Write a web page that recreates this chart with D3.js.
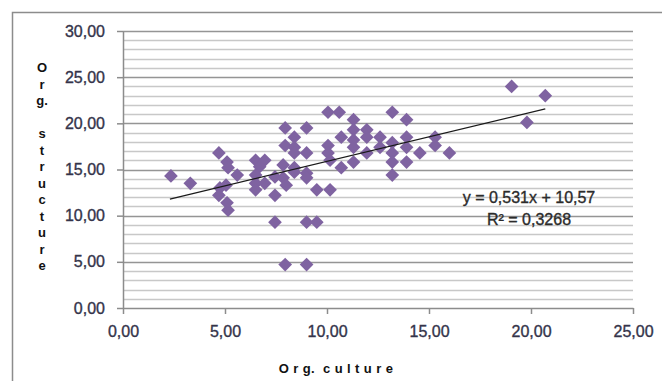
<!DOCTYPE html>
<html>
<head>
<meta charset="utf-8">
<script src="https://cdn.jsdelivr.net/npm/d3@7"></script>
<style>
  html, body { margin: 0; padding: 0; background: #fff; }
  svg { display: block; }
  .tick text { font-family: "Liberation Sans", Arial, sans-serif; font-size: 16px; fill: #34344a; stroke: #34344a; stroke-width: 0.35px; }
</style>
</head>
<body>
<div id="chart"></div>
<script>
// Org. culture (x) vs Org. structure (y)
const cultureValues = [
  2.35, 3.3, 4.7, 5.1, 5.15, 5.6, 4.75, 4.7, 5.1, 5.15, 5.05,
  6.5, 6.95, 6.7, 6.5, 6.5, 6.5, 6.95, 7.45, 7.45, 7.45,
  7.95, 9.0, 9.0, 9.5, 9.5, 10.15,
  7.95, 9.0, 8.4, 7.95, 8.4, 8.4, 9.0, 7.85, 8.4, 9.0, 7.85, 8.0, 8.4, 9.0,
  10.05, 10.6, 13.2, 10.05, 10.05, 10.15, 10.7, 10.7,
  11.3, 11.3, 11.3, 11.3, 11.3, 11.95, 11.95, 11.95, 12.6, 12.6,
  13.2, 13.2, 13.2, 13.2, 13.9, 13.9, 13.9, 13.9, 14.55, 15.3, 15.3, 16.0,
  19.05, 19.8, 20.7
];
const structureValues = [
  14.3, 13.5, 16.8, 15.8, 15.2, 14.4, 13.0, 12.2, 11.4, 10.6, 13.3,
  16.0, 16.0, 15.3, 14.4, 13.5, 12.8, 13.5, 14.2, 12.2, 9.3,
  4.7, 4.7, 9.3, 9.3, 12.8, 12.8,
  19.5, 19.5, 18.5, 17.6, 17.4, 16.8, 16.8, 15.5, 15.2, 14.6, 14.1, 13.3, 14.7, 14.1,
  21.2, 21.2, 21.2, 17.6, 16.8, 16.0, 18.5, 15.2,
  20.4, 19.3, 18.2, 17.4, 15.8, 19.3, 18.5, 16.8, 18.5, 17.4,
  17.9, 16.8, 15.8, 14.4, 20.4, 18.5, 17.4, 15.8, 16.8, 18.5, 17.6, 16.8,
  24.0, 20.1, 23.0
];
const xTicks = [0, 5, 10, 15, 20, 25];
const yTicks = [0, 5, 10, 15, 20, 25, 30];
// linear trendline as printed on the chart
const trendSlope = 0.531;
const trendIntercept = 10.57;
const trendRange = [2.3, 20.7];
const equationLines = ["y = 0,531x + 10,57", "R² = 0,3268"];
const yTitle = ["O", "r", "g.", "", "s", "t", "r", "u", "c", "t", "u", "r", "e"];
const xTitle = "O r g.  c u l t u r e";

const width = 662, height = 381;
const points = cultureValues.map((c, i) => ({ x: c, y: structureValues[i] }));

const svg = d3.select('#chart')
  .append('svg')
  .attr('width', width)
  .attr('height', height);

// chart area border
svg.append('path')
  .attr('d', `M12.5,${height}V12.5H${width}`)
  .attr('fill', 'none')
  .attr('stroke', '#8c8c8c')
  .attr('stroke-width', 1.5);

const x = d3.scaleLinear().domain([0, 25]).range([123, 633]);
const y = d3.scaleLinear().domain([0, 30]).range([308, 31]);

const locale = d3.formatLocale({ decimal: ',', thousands: '.', grouping: [3], currency: ['', ''] });
const fmt = locale.format('.2f');

// gridlines: minor every 1, major every 5
const grid = svg.append('g');
grid.selectAll('line.minor')
  .data(y.ticks(30).filter(v => v % 5 !== 0))
  .enter()
  .append('line')
  .attr('x1', x(0)).attr('x2', x(25))
  .attr('y1', d => Math.round(y(d)) + 0.5)
  .attr('y2', d => Math.round(y(d)) + 0.5)
  .attr('stroke', '#c8c8c8')
  .attr('stroke-width', 1.5);
grid.selectAll('line.major')
  .data(yTicks.filter(v => v > 0))
  .enter()
  .append('line')
  .attr('x1', x(0)).attr('x2', x(25))
  .attr('y1', d => Math.round(y(d)) + 0.5)
  .attr('y2', d => Math.round(y(d)) + 0.5)
  .attr('stroke', '#959595')
  .attr('stroke-width', 1.5);

// axes
const yAxis = svg.append('g')
  .attr('transform', `translate(${x(0)},0)`)
  .call(d3.axisLeft(y).tickValues(yTicks).tickFormat(fmt).tickSize(6).tickSizeOuter(0).tickPadding(12));
const xAxis = svg.append('g')
  .attr('transform', `translate(0,${y(0)})`)
  .call(d3.axisBottom(x).tickValues(xTicks).tickFormat(fmt).tickSize(6).tickSizeOuter(0).tickPadding(12));
[yAxis, xAxis].forEach(a => {
  a.select('.domain').attr('stroke', '#8c8c8c').attr('stroke-width', 1.5);
  a.selectAll('.tick line').attr('stroke', '#8c8c8c').attr('stroke-width', 1.5);
});

// markers
svg.append('g')
  .selectAll('path')
  .data(points)
  .enter()
  .append('path')
  .attr('d', d3.symbol(d3.symbolSquare, 94))
  .attr('transform', d => `translate(${x(d.x)},${y(d.y)}) rotate(45)`)
  .attr('fill', '#7f63a1');

// trendline
svg.append('line')
  .attr('x1', x(trendRange[0]))
  .attr('y1', y(trendSlope * trendRange[0] + trendIntercept))
  .attr('x2', x(trendRange[1]))
  .attr('y2', y(trendSlope * trendRange[1] + trendIntercept))
  .attr('stroke', '#1a1a1a')
  .attr('stroke-width', 1.2);

svg.append('g')
  .selectAll('text')
  .data(equationLines)
  .enter()
  .append('text')
  .attr('x', 529)
  .attr('y', (d, i) => 203 + i * 22)
  .attr('text-anchor', 'middle')
  .style('font-family', '"Liberation Sans", Arial, sans-serif')
  .style('font-size', '16px')
  .attr('fill', '#2b2b2b')
  .attr('stroke', '#2b2b2b')
  .attr('stroke-width', 0.35)
  .text(d => d);

// axis titles
svg.append('g')
  .selectAll('text')
  .data(yTitle)
  .enter()
  .append('text')
  .attr('x', 42)
  .attr('y', (d, i) => 72 + i * 16.5)
  .attr('text-anchor', 'middle')
  .style('font-family', '"Liberation Sans", Arial, sans-serif')
  .style('font-size', '13px')
  .style('font-weight', 'bold')
  .attr('fill', '#111')
  .text(d => d);

svg.append('text')
  .attr('x', 336)
  .attr('y', 373)
  .attr('text-anchor', 'middle')
  .style('font-family', '"Liberation Sans", Arial, sans-serif')
  .style('font-size', '13px')
  .style('font-weight', 'bold')
  .style('letter-spacing', '0.4px')
  .style('white-space', 'pre')
  .attr('fill', '#111')
  .text(xTitle);
</script>
</body>
</html>
